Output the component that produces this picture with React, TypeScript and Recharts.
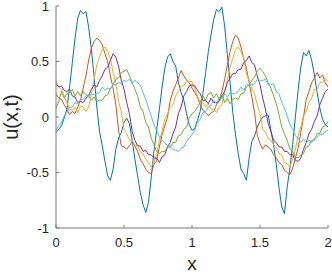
import React from 'react';
import { LineChart, Line, XAxis, YAxis } from 'recharts';

const xs = [
  0, 0.02, 0.04, 0.06, 0.08, 0.1, 0.12, 0.14, 0.16, 0.18,
  0.2, 0.22, 0.24, 0.26, 0.28, 0.3, 0.32, 0.34, 0.36, 0.38,
  0.4, 0.42, 0.44, 0.46, 0.48, 0.5, 0.52, 0.54, 0.56, 0.58,
  0.6, 0.62, 0.64, 0.66, 0.68, 0.7, 0.72, 0.74, 0.76, 0.78,
  0.8, 0.82, 0.84, 0.86, 0.88, 0.9, 0.92, 0.94, 0.96, 0.98,
  1, 1.02, 1.04, 1.06, 1.08, 1.1, 1.12, 1.14, 1.16, 1.18,
  1.2, 1.22, 1.24, 1.26, 1.28, 1.3, 1.32, 1.34, 1.36, 1.38,
  1.4, 1.42, 1.44, 1.46, 1.48, 1.5, 1.52, 1.54, 1.56, 1.58,
  1.6, 1.62, 1.64, 1.66, 1.68, 1.7, 1.72, 1.74, 1.76, 1.78,
  1.8, 1.82, 1.84, 1.86, 1.88, 1.9, 1.92, 1.94, 1.96, 1.98,
  2,
];

const uBlue = [
  -0.14, -0.11, -0.08, -0.01, 0.07, 0.27, 0.49, 0.71, 0.89, 0.96,
  0.93, 0.95, 0.81, 0.61, 0.37, 0.09, -0.13, -0.26, -0.4, -0.53,
  -0.57, -0.47, -0.29, -0.19, -0.14, -0.05, -0.01, -0.06, -0.21, -0.38,
  -0.53, -0.68, -0.79, -0.86, -0.77, -0.55, -0.31, -0.12, 0.07, 0.27,
  0.44, 0.54, 0.57, 0.5, 0.46, 0.31, 0.22, 0.15, 0.03, -0.07,
  -0.12, -0.11, -0.03, 0.05, 0.21, 0.4, 0.59, 0.74, 0.88, 0.97,
  0.95, 0.99, 0.82, 0.56, 0.31, 0.04, -0.16, -0.33, -0.47, -0.51,
  -0.57, -0.37, -0.22, -0.17, -0.09, -0.04, 0, 0.01, 0.02, -0.12,
  -0.25, -0.43, -0.64, -0.81, -0.87, -0.63, -0.46, -0.25, 0, 0.24,
  0.45, 0.58, 0.55, 0.6, 0.51, 0.38, 0.22, 0.08, -0.02, -0.07,
  -0.09,
];

const uOrange = [
  0.21, 0.17, 0.16, 0.11, 0.07, 0.02, 0.05, 0.03, 0.09, 0.15,
  0.26, 0.37, 0.51, 0.62, 0.68, 0.71, 0.69, 0.65, 0.57, 0.5,
  0.37, 0.26, 0.11, -0.12, -0.26, -0.27, -0.29, -0.26, -0.22, -0.26,
  -0.31, -0.38, -0.42, -0.47, -0.5, -0.51, -0.43, -0.39, -0.27, -0.16,
  -0.08, 0, 0.15, 0.23, 0.29, 0.35, 0.42, 0.37, 0.33, 0.31,
  0.26, 0.22, 0.18, 0.11, 0.06, 0.04, 0.01, 0.04, 0.05, 0.11,
  0.15, 0.23, 0.34, 0.47, 0.59, 0.68, 0.74, 0.71, 0.63, 0.53,
  0.44, 0.31, 0.18, 0.04, -0.16, -0.24, -0.29, -0.25, -0.27, -0.29,
  -0.34, -0.37, -0.41, -0.43, -0.48, -0.5, -0.52, -0.46, -0.37, -0.28,
  -0.14, 0, 0.16, 0.23, 0.31, 0.35, 0.4, 0.35, 0.38, 0.31,
  0.27,
];

const uYellow = [
  0.33, 0.27, 0.25, 0.19, 0.13, 0.07, 0.06, 0.09, 0.04, 0.1,
  0.09, 0.05, 0.09, 0.2, 0.34, 0.47, 0.54, 0.61, 0.63, 0.59,
  0.53, 0.4, 0.31, 0.14, 0.05, -0.11, -0.15, -0.21, -0.21, -0.26,
  -0.26, -0.31, -0.33, -0.38, -0.41, -0.45, -0.41, -0.34, -0.21, -0.13,
  -0.02, 0.03, 0.09, 0.11, 0.19, 0.23, 0.28, 0.28, 0.33, 0.32,
  0.32, 0.25, 0.19, 0.13, 0.13, 0.09, 0.12, 0.07, 0.07, 0.04,
  0.09, 0.11, 0.23, 0.33, 0.45, 0.53, 0.61, 0.63, 0.59, 0.53,
  0.39, 0.33, 0.25, 0.21, 0.11, 0.03, -0.11, -0.14, -0.19, -0.21,
  -0.25, -0.27, -0.33, -0.34, -0.41, -0.42, -0.45, -0.37, -0.29, -0.17,
  -0.09, 0.01, 0.05, 0.13, 0.17, 0.25, 0.25, 0.31, 0.31, 0.35,
  0.32,
];

const uPurple = [
  0.3, 0.27, 0.28, 0.24, 0.23, 0.25, 0.19, 0.18, 0.13, 0.14,
  0.13, 0.17, 0.19, 0.25, 0.29, 0.27, 0.33, 0.37, 0.43, 0.45,
  0.51, 0.57, 0.54, 0.46, 0.33, 0.25, 0.13, 0.03, -0.13, -0.21,
  -0.26, -0.26, -0.31, -0.3, -0.34, -0.34, -0.37, -0.37, -0.41, -0.36,
  -0.34, -0.27, -0.23, -0.15, -0.09, 0.03, 0.09, 0.19, 0.23, 0.28,
  0.29, 0.28, 0.24, 0.21, 0.15, 0.15, 0.12, 0.17, 0.13, 0.13,
  0.14, 0.19, 0.23, 0.31, 0.35, 0.39, 0.39, 0.43, 0.43, 0.49,
  0.51, 0.55, 0.49, 0.47, 0.37, 0.29, 0.17, 0.07, -0.06, -0.13,
  -0.21, -0.23, -0.27, -0.27, -0.31, -0.31, -0.34, -0.34, -0.39, -0.4,
  -0.37, -0.29, -0.23, -0.15, -0.11, -0.04, 0.01, 0.11, 0.17, 0.23,
  0.25,
];

const uGreen = [
  0.08, 0.14, 0.23, 0.17, 0.21, 0.22, 0.25, 0.19, 0.23, 0.19,
  0.23, 0.2, 0.19, 0.15, 0.18, 0.14, 0.15, 0.15, 0.19, 0.2,
  0.26, 0.29, 0.34, 0.35, 0.4, 0.41, 0.43, 0.37, 0.31, 0.25,
  0.19, 0.09, 0.05, -0.05, -0.09, -0.19, -0.25, -0.31, -0.33, -0.31,
  -0.31, -0.27, -0.27, -0.23, -0.23, -0.17, -0.16, -0.11, -0.09, -0.01,
  0.03, 0.05, 0.09, 0.13, 0.19, 0.15, 0.21, 0.22, 0.17, 0.21,
  0.16, 0.2, 0.13, 0.17, 0.12, 0.16, 0.17, 0.16, 0.21, 0.21,
  0.27, 0.29, 0.33, 0.36, 0.41, 0.44, 0.41, 0.37, 0.31, 0.26,
  0.19, 0.12, 0.02, -0.09, -0.15, -0.21, -0.29, -0.31, -0.36, -0.37,
  -0.34, -0.33, -0.27, -0.26, -0.21, -0.21, -0.15, -0.15, -0.09, -0.08,
  -0.04,
];

const uCyan = [
  -0.12, -0.08, -0.05, 0.01, 0.04, 0.09, 0.09, 0.13, 0.12, 0.16,
  0.16, 0.19, 0.18, 0.21, 0.2, 0.21, 0.22, 0.27, 0.24, 0.26,
  0.25, 0.29, 0.29, 0.31, 0.3, 0.33, 0.32, 0.34, 0.3, 0.33,
  0.31, 0.29, 0.22, 0.16, 0.08, 0.01, -0.07, -0.12, -0.18, -0.21,
  -0.23, -0.26, -0.27, -0.29, -0.3, -0.31, -0.28, -0.27, -0.22, -0.19,
  -0.16, -0.12, -0.05, -0.02, 0.04, 0.05, 0.09, 0.11, 0.15, 0.12,
  0.17, 0.17, 0.21, 0.18, 0.22, 0.21, 0.21, 0.23, 0.27, 0.24,
  0.29, 0.29, 0.29, 0.3, 0.34, 0.33, 0.33, 0.34, 0.29, 0.29,
  0.3, 0.23, 0.21, 0.13, 0.08, 0.01, -0.07, -0.11, -0.17, -0.19,
  -0.23, -0.2, -0.23, -0.21, -0.23, -0.19, -0.18, -0.16, -0.16, -0.13,
  -0.12,
];

const xTicks = [0, 0.5, 1, 1.5, 2];
const yTicks = [-1, -0.5, 0, 0.5, 1];

const series = [
  { key: 'blue', values: uBlue, color: '#0072BD' },
  { key: 'orange', values: uOrange, color: '#D95319' },
  { key: 'yellow', values: uYellow, color: '#EDB120' },
  { key: 'purple', values: uPurple, color: '#7E2F8E' },
  { key: 'green', values: uGreen, color: '#77AC30' },
  { key: 'cyan', values: uCyan, color: '#4DBEEE' },
];

const data = xs.map((x, i) => {
  const row: Record<string, number> = { x };
  series.forEach((s) => {
    row[s.key] = s.values[i];
  });
  return row;
});

const FONT = '"Liberation Sans", Arial, Helvetica, sans-serif';
const TEXT = '#262626';
const AXIS = '#7a7a7a';

function XTick(props: any) {
  const { x, y, payload } = props;
  return (
    <g>
      <line x1={x} x2={x} y1={y} y2={y - 3} stroke={AXIS} strokeWidth={1} />
      <text x={x} y={y + 19} textAnchor="middle" fontSize={13} fill={TEXT} fontFamily={FONT}>
        {String(payload.value)}
      </text>
    </g>
  );
}

function YTick(props: any) {
  const { x, y, payload } = props;
  return (
    <g>
      <line x1={x} x2={x + 3} y1={y} y2={y} stroke={AXIS} strokeWidth={1} />
      <text x={x - 7} y={y + 4.5} textAnchor="end" fontSize={13} fill={TEXT} fontFamily={FONT}>
        {String(payload.value)}
      </text>
    </g>
  );
}

function XLabel(props: any) {
  const vb = props.viewBox || {};
  return (
    <text x={vb.x + vb.width / 2} y={vb.y + 42} textAnchor="middle" fontSize={19} fill={TEXT} fontFamily={FONT}>
      x
    </text>
  );
}

function YLabel(props: any) {
  const vb = props.viewBox || {};
  const cx = 18;
  const cy = vb.y + vb.height / 2;
  return (
    <text
      x={cx}
      y={cy}
      transform={`rotate(-90 ${cx} ${cy})`}
      textAnchor="middle"
      fontSize={20}
      fill={TEXT}
      fontFamily={FONT}
    >
      u(x,t)
    </text>
  );
}

export default function App() {
  return (
    <div style={{ position: 'absolute', left: 0, top: 0, width: 332, height: 274, background: '#fff' }}>
      <LineChart width={332} height={274} data={data} margin={{ top: 6, right: 4, left: 0, bottom: 0 }}>
        <XAxis
          dataKey="x"
          type="number"
          domain={[0, 2]}
          ticks={xTicks}
          height={46}
          tickSize={0}
          tickMargin={0}
          tickLine={false}
          axisLine={{ stroke: AXIS, strokeWidth: 1 }}
          tick={<XTick />}
          interval={0}
          label={<XLabel />}
        />
        <YAxis
          type="number"
          domain={[-1, 1]}
          ticks={yTicks}
          width={56}
          tickSize={0}
          tickMargin={0}
          tickLine={false}
          axisLine={{ stroke: AXIS, strokeWidth: 1 }}
          tick={<YTick />}
          interval={0}
          label={<YLabel />}
        />
        {series.map((s) => (
          <Line
            key={s.key}
            dataKey={s.key}
            type="linear"
            stroke={s.color}
            strokeWidth={1}
            dot={false}
            activeDot={false}
            isAnimationActive={false}
          />
        ))}
      </LineChart>
    </div>
  );
}
